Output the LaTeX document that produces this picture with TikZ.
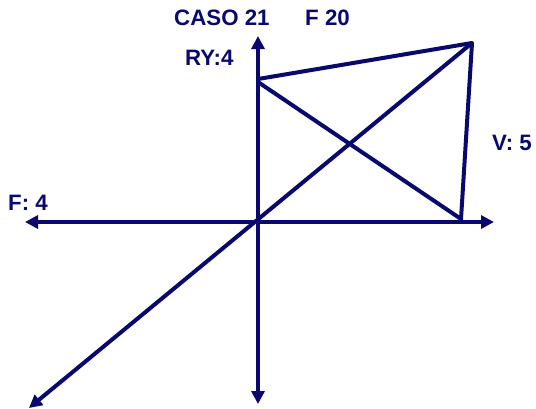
\documentclass[tikz,border=0pt]{standalone}
\usepackage{fontspec}
\setmainfont{Liberation Sans}
\usetikzlibrary{arrows.meta}
\definecolor{navy}{RGB}{8,8,110}
\begin{document}
\begin{tikzpicture}[x=1pt,y=-1pt,
  axis/.style={draw=navy,line width=4pt,-{Triangle[length=13pt,width=13pt]}},
  edge/.style={draw=navy,line width=4pt,line cap=round,line join=round},
  lbl/.style={text=navy,font=\fontsize{22.3}{25}\selectfont\bfseries,inner sep=0pt,anchor=base west}]
\useasboundingbox (0,0) rectangle (536,408);
\coordinate (O) at (258,222);
\coordinate (T) at (258,36);
\coordinate (B) at (258,404);
\coordinate (L) at (25,222);
\coordinate (R) at (494,222);
\coordinate (D1) at (29,408);
\coordinate (D2) at (472,43);
\coordinate (RY) at (258,79);
\coordinate (RY2) at (258,82);
\coordinate (P) at (461,219);
\draw[axis] (O) -- (T);
\draw[axis] (O) -- (B);
\draw[axis] (O) -- (L);
\draw[axis] (O) -- (R);
\draw[axis] (D2) -- (D1);
\draw[edge] (RY) -- (D2) -- (P);
\draw[edge] (RY2) -- (P);
\node[lbl] (caso) at (174,25) {CASO 21};
\node[lbl] (f20) at (305,25) {F 20};
\node[lbl] (ry) at (185,65) {RY:4};
\node[lbl] (v5) at (492,150) {V: 5};
\node[lbl] (f4) at (8,210) {F: 4};
\end{tikzpicture}
\end{document}
